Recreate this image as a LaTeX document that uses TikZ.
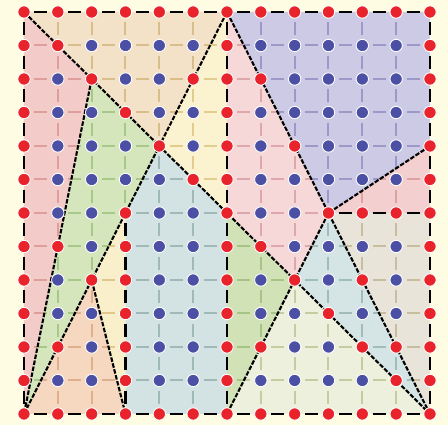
\documentclass[tikz,border=0pt]{standalone}
\pgfdeclarelayer{bg}
\pgfdeclarelayer{lines}
\pgfsetlayers{bg,lines,main}
\definecolor{cream}{HTML}{FEFCE2}
\definecolor{dotred}{HTML}{E8232B}
\definecolor{dotblue}{HTML}{4B50A5}
% region fills and grid colours
\definecolor{fA}{HTML}{F3CBC8}\definecolor{gA}{HTML}{DE9E9C}
\definecolor{fB}{HTML}{F4E2C8}\definecolor{gB}{HTML}{D8BE8A}
\definecolor{fC}{HTML}{FBF2CF}\definecolor{gC}{HTML}{E2CC8E}
\definecolor{fD}{HTML}{F6D8D8}\definecolor{gD}{HTML}{DDA8AC}
\definecolor{fE}{HTML}{CCCAE4}\definecolor{gE}{HTML}{9C98C8}
\definecolor{fF}{HTML}{F4CFCF}\definecolor{gF}{HTML}{DDA2A2}
\definecolor{fG}{HTML}{E8E4DA}\definecolor{gG}{HTML}{C6BE9E}
\definecolor{fH}{HTML}{D5E4E4}\definecolor{gH}{HTML}{A2BCBA}
\definecolor{fI}{HTML}{EDF0DC}\definecolor{gI}{HTML}{C6CBA2}
\definecolor{fJ}{HTML}{D0E2B6}\definecolor{gJ}{HTML}{A6C486}
\definecolor{fK}{HTML}{D3E2E2}\definecolor{gK}{HTML}{A0B8B6}
\definecolor{fL}{HTML}{D5E6BC}\definecolor{gL}{HTML}{A8C88A}
\definecolor{fM}{HTML}{FAEFCB}\definecolor{gM}{HTML}{E0C88C}
\definecolor{fN}{HTML}{F6D7BF}\definecolor{gN}{HTML}{DEB08E}
% red points
\foreach \a/\b in {1/1,2/2,3/3,4/4,5/5,6/6,7/7,8/8,9/9,10/10,11/11,
  5/2,3/6,2/8,1/10,7/2,8/4,9/6,10/8,11/10,1/7,7/10,
  6/1,6/2,6/3,6/4,6/5,6/7,6/8,6/9,6/10,6/11,
  3/7,3/8,3/9,3/10,3/11,10/6,11/6}{%
  \expandafter\gdef\csname isred-\a-\b\endcsname{1}}
\foreach \k in {0,...,12}{%
  \expandafter\gdef\csname isred-\k-0\endcsname{1}%
  \expandafter\gdef\csname isred-\k-12\endcsname{1}%
  \expandafter\gdef\csname isred-0-\k\endcsname{1}%
  \expandafter\gdef\csname isred-12-\k\endcsname{1}}
\tikzset{
  dot/.style={circle, minimum size=12.4pt, inner sep=0pt, draw=white, line width=0.9pt},
  reddot/.style={dot, fill=dotred},
  bluedot/.style={dot, fill=dotblue},
  hgrid/.style={line width=2pt, dash pattern=on 13pt off 20.83pt, dash phase=23.415pt},
  vgrid/.style={line width=2pt, dash pattern=on 13pt off 20.5pt, dash phase=23.25pt},
  hcon/.style={black, line width=2.8pt, dash pattern=on 13pt off 20.83pt, dash phase=23.415pt},
  vcon/.style={black, line width=2.8pt, dash pattern=on 13pt off 20.5pt, dash phase=23.25pt},
  diag/.style={black, line width=2.1pt, dash pattern=on 4.5pt off 1.6pt},
}
\newcommand{\myregion}[3]{%
  \begin{scope}
    \clip #3 -- cycle;
    \fill[#1] (-1,-1) rectangle (13,13);
    \foreach \k in {0,...,12}{%
      \draw[hgrid,#2] (p-0-\k.center) -- (p-12-\k.center);
      \draw[vgrid,#2] (p-\k-0.center) -- (p-\k-12.center);}
  \end{scope}}
\begin{document}
\begin{tikzpicture}[x=33.833pt,y=-33.5pt]
\path[use as bounding box] (-0.7094,-0.3582) rectangle (12.5329,12.3284);
% dots
\foreach \i in {0,...,12}{\foreach \j in {0,...,12}{%
  \ifcsname isred-\i-\j\endcsname
    \node[reddot] (p-\i-\j) at (\i,\j) {};
  \else
    \node[bluedot] (p-\i-\j) at (\i,\j) {};
  \fi}}
\begin{pgfonlayer}{bg}
  \fill[cream] (-0.7094,-0.3582) rectangle (12.5329,12.3284);
  \myregion{fA}{gA}{(p-0-0.center) -- (p-2-2.center) -- (p-0-12.center)}
  \myregion{fB}{gB}{(p-0-0.center) -- (p-6-0.center) -- (p-4-4.center)}
  \myregion{fC}{gC}{(p-6-0.center) -- (p-4-4.center) -- (p-6-6.center)}
  \myregion{fD}{gD}{(p-6-0.center) -- (p-6-6.center) -- (p-8-8.center) -- (p-9-6.center)}
  \myregion{fE}{gE}{(p-6-0.center) -- (p-12-0.center) -- (p-12-4.center) -- (p-9-6.center)}
  \myregion{fF}{gF}{(p-9-6.center) -- (p-12-4.center) -- (p-12-6.center)}
  \myregion{fG}{gG}{(p-9-6.center) -- (p-12-6.center) -- (p-12-12.center)}
  \myregion{fH}{gH}{(p-9-6.center) -- (p-8-8.center) -- (p-12-12.center)}
  \myregion{fI}{gI}{(p-8-8.center) -- (p-12-12.center) -- (p-6-12.center)}
  \myregion{fJ}{gJ}{(p-6-6.center) -- (p-8-8.center) -- (p-6-12.center)}
  \myregion{fK}{gK}{(p-4-4.center) -- (p-6-6.center) -- (p-6-12.center) -- (p-3-12.center) -- (p-3-6.center)}
  \myregion{fL}{gL}{(p-2-2.center) -- (p-4-4.center) -- (p-0-12.center)}
  \myregion{fM}{gM}{(p-3-6.center) -- (p-2-8.center) -- (p-3-12.center)}
  \myregion{fN}{gN}{(p-2-8.center) -- (p-0-12.center) -- (p-3-12.center)}
\end{pgfonlayer}
\begin{pgfonlayer}{lines}
  % constraint edges
  \draw[hcon] (p-0-0.center) -- (p-12-0.center);
  \draw[hcon] (p-0-12.center) -- (p-12-12.center);
  \draw[vcon] (p-0-0.center) -- (p-0-12.center);
  \draw[vcon] (p-12-0.center) -- (p-12-12.center);
  \draw[vcon] (p-6-0.center) -- (p-6-12.center);
  \draw[vcon] (p-3-6.center) -- (p-3-12.center);
  \draw[hcon] (p-9-6.center) -- (p-12-6.center);
  % triangulation edges
  \draw[diag] (p-0-0) -- (p-12-12);
  \draw[diag] (p-6-0) -- (p-0-12);
  \draw[diag] (p-6-0) -- (p-12-12);
  \draw[diag] (p-2-2) -- (p-0-12);
  \draw[diag] (p-9-6) -- (p-6-12);
  \draw[diag] (p-9-6) -- (p-12-4);
  \draw[diag] (p-2-8) -- (p-3-12);
\end{pgfonlayer}
\end{tikzpicture}
\end{document}
